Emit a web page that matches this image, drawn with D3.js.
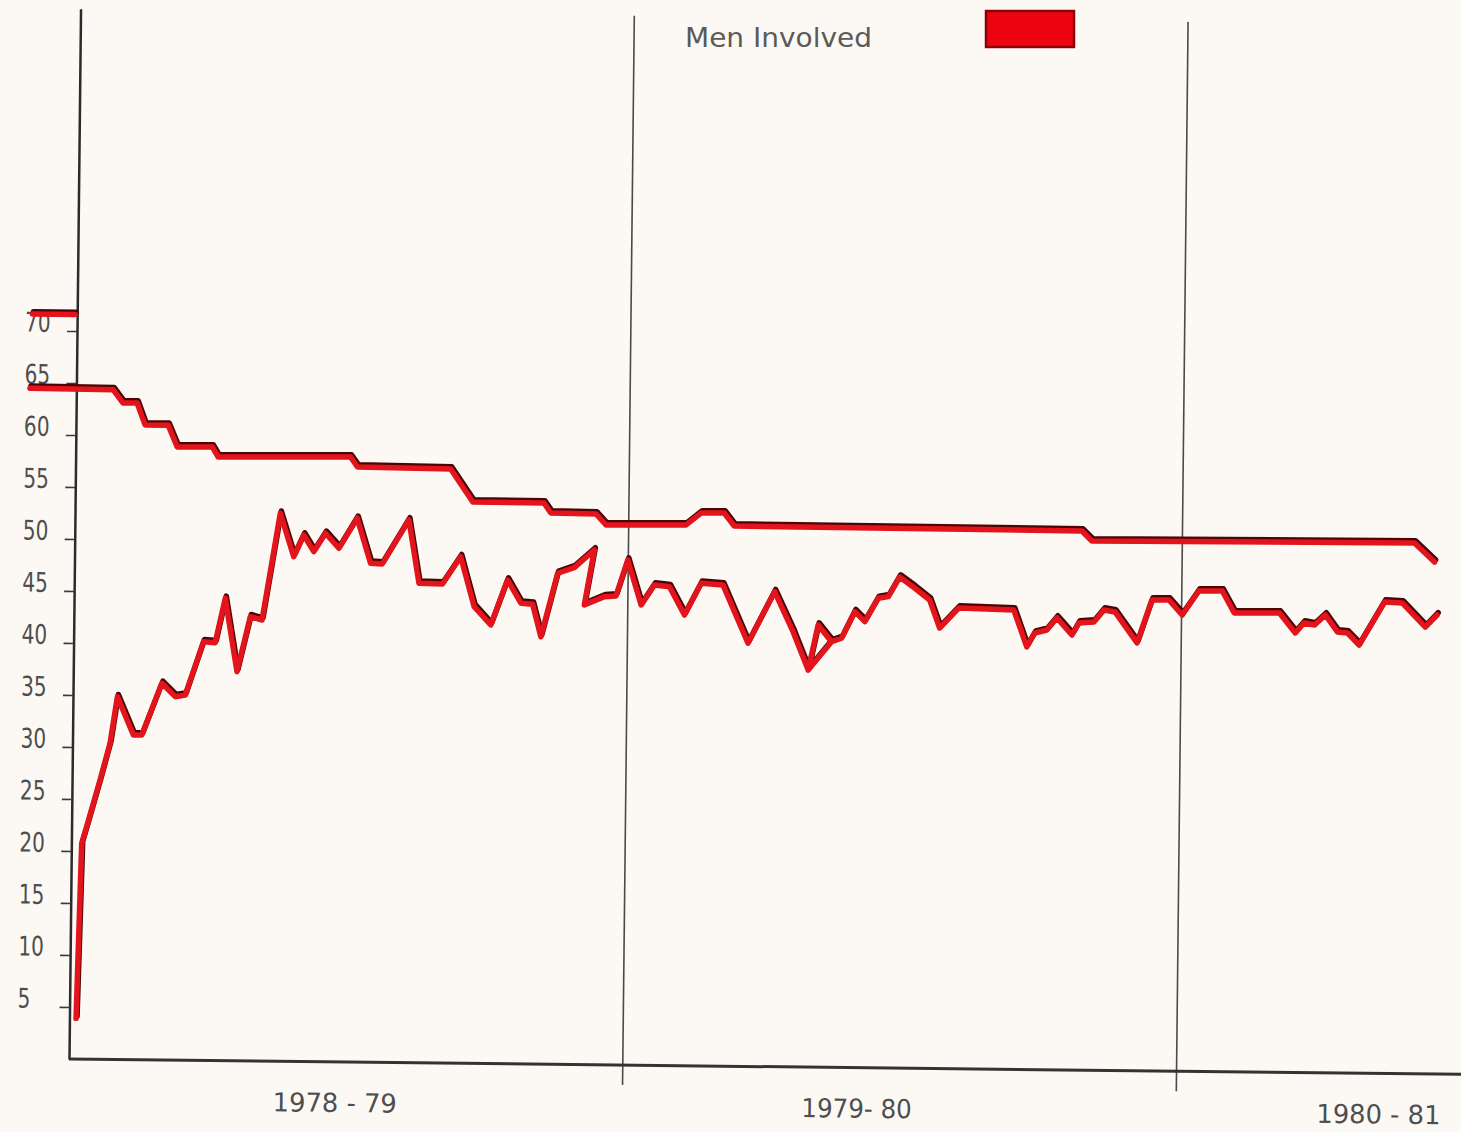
<!DOCTYPE html>
<html><head><meta charset="utf-8">
<script src="https://cdn.jsdelivr.net/npm/d3@7"></script>
<style>html,body{margin:0;padding:0;background:#fcf9f4;} svg{display:block}</style>
</head><body>
<svg id="chart" width="1461" height="1132"></svg>
<script>
// ---- data ----
const yTickValues = [5,10,15,20,25,30,35,40,45,50,55,60,65,70];
const yearLabels = ["1978 - 79", "1979- 80", "1980 - 81"];
const yearLabelWeeks = [25, 74, 123];
const yearDividerWeeks = [52, 104];
const legendLabel = "Men Involved";

// upper series: [week, value]
const upperSeries = [
  [-4.36,64.45],[3.45,64.4],[4.40,63.13],[5.72,63.15],[6.49,61.05],[8.66,61.05],
  [9.53,58.96],[12.82,59.0],[13.39,58.04],[25.81,58.18],[26.48,57.23],[35.23,57.13],
  [37.34,53.98],[44.02,53.96],[44.68,53.01],[48.92,52.96],[49.87,51.91],[57.39,52.0],
  [58.8,53.17],[60.96,53.19],[61.91,51.95],[94.56,51.84],[95.51,50.89],[125.8,51.04],
  [127.7,49.23]
];

// lower series: [week, value]
const lowerSeries = [
  [0.62,3.92],[0.97,20.75],[1.42,22.36],[2.63,26.86],[3.53,30.4],[4.17,34.89],
  [5.71,31.22],[6.5,31.23],[8.33,36.22],[9.6,34.95],[10.54,35.12],[12.2,40.27],
  [13.3,40.18],[14.2,44.46],[15.37,37.42],[16.57,42.72],[17.67,42.41],[19.28,52.7],
  [20.58,48.54],[21.5,50.63],[22.46,49.04],[23.54,50.82],[24.81,49.39],[26.5,52.3],
  [27.8,47.98],[28.9,47.93],[31.36,52.19],[32.37,46.11],[34.57,46.07],[36.26,48.71],
  [37.57,43.92],[39.15,42.18],[40.68,46.52],[41.96,44.3],[43.06,44.21],[43.87,41.1],
  [45.38,47.22],[46.93,47.78],[48.8,49.5],[47.91,44.2],[49.79,45.02],[50.88,45.1],
  [51.95,48.57],[53.25,44.26],[54.48,46.2],[55.89,46.05],[57.33,43.34],[58.87,46.41],
  [60.91,46.27],[63.32,40.69],[65.77,45.68],[67.54,41.85],[69.0,38.18],[69.89,42.52],
  [71.16,40.93],[69.0,38.18],[71.16,40.93],[72.1,41.27],[73.32,43.84],[74.27,42.89],
  [75.5,45.15],[76.45,45.32],[77.49,47.22],[78.91,46.18],[80.34,45.04],[81.3,42.36],
  [83.07,44.3],[88.25,44.17],[89.5,40.63],[90.24,41.98],[91.37,42.28],[92.3,43.45],
  [93.73,41.83],[94.37,42.99],[95.78,43.1],[96.71,44.27],[97.75,44.09],[99.85,41.13],
  [101.2,45.28],[102.8,45.3],[104.06,43.87],[105.6,46.19],[107.8,46.22],[108.95,44.12],
  [113.2,44.16],[114.7,42.26],[115.5,43.23],[116.5,43.05],[117.5,44.02],[118.65,42.4],
  [119.6,42.31],[120.7,41.17],[123.05,45.33],[124.7,45.26],[126.9,42.97],[128.0,44.14]
];

// short red mark left of the axis near the top
const stubSeries = [[-4.2,71.6],[-0.2,71.6]];

// ---- drawing ----
const FONT = "'DejaVu Sans', sans-serif";
const svg = d3.select("#chart");
svg.append("rect").attr("width",1461).attr("height",1132).attr("fill","#fcf9f4");

const tilt = 0.63; // degrees, scan rotation
const g = svg.append("g").attr("transform", `translate(69,1059) rotate(${tilt})`);

const x = d3.scaleLinear().domain([0,104]).range([0, 1107.6]);
const y = d3.scaleLinear().domain([0,101]).range([0,-1050.4]);

// dividers between years
g.selectAll("line.div").data(yearDividerWeeks).join("line")
  .attr("class","div")
  .attr("x1", d=>x(d)).attr("x2", d=>x(d))
  .attr("y1", 20).attr("y2", y(100.9))
  .attr("stroke","#4a4a4a").attr("stroke-width",1.6);

// x axis line
g.append("line").attr("x1",0).attr("x2",x(138)).attr("y1",0).attr("y2",0)
  .attr("stroke","#333").attr("stroke-width",3);

// y axis
const yAxis = d3.axisLeft(y).tickValues(yTickValues).tickSize(10).tickSizeOuter(0);
const ya = g.append("g").call(yAxis);
ya.select(".domain").attr("stroke","#2b2b2b").attr("stroke-width",2.5);
ya.selectAll(".tick line").attr("stroke","#3a3a3a").attr("stroke-width",1.6);
ya.selectAll(".tick text")
  .attr("x",-52).attr("dy","0.02em")
  .attr("text-anchor","start")
  .attr("font-family",FONT)
  .attr("font-size",27).attr("fill","#4e4e4e")
  .attr("textLength", function(){ return this.textContent.length*12.8; })
  .attr("lengthAdjust","spacingAndGlyphs");

// year labels
g.selectAll("text.year").data(yearLabels).join("text")
  .attr("class","year")
  .attr("x",(d,i)=>x(yearLabelWeeks[i])).attr("y",50)
  .attr("text-anchor","middle")
  .attr("font-family",FONT)
  .attr("font-size",26).attr("fill","#4e4e4e")
  .attr("textLength", d=>d.length*13.8)
  .attr("lengthAdjust","spacingAndGlyphs")
  .text(d=>d);

// lines
const line = d3.line().x(d=>x(d[0])).y(d=>y(d[1]));
const series = [upperSeries, lowerSeries, stubSeries];
g.selectAll("path.shadow").data(series).join("path")
  .attr("class","shadow")
  .attr("d", line).attr("fill","none")
  .attr("stroke","#4a0606").attr("stroke-width",5.5)
  .attr("stroke-linejoin","round").attr("stroke-linecap","round")
  .attr("transform","translate(1,-2.2)");
g.selectAll("path.main").data(series).join("path")
  .attr("class","main")
  .attr("d", line).attr("fill","none")
  .attr("stroke","#e3141b").attr("stroke-width",5.5)
  .attr("stroke-linejoin","round").attr("stroke-linecap","round");

// legend
svg.append("text").attr("x",685).attr("y",47)
  .attr("font-family",FONT)
  .attr("font-size",27).attr("fill","#5a5a5a")
  .attr("textLength",187).attr("lengthAdjust","spacingAndGlyphs")
  .text(legendLabel);
svg.append("rect").attr("x",986).attr("y",11).attr("width",88).attr("height",36)
  .attr("fill","#ec0510").attr("stroke","#8e0008").attr("stroke-width",2.5);
</script>
</body></html>
